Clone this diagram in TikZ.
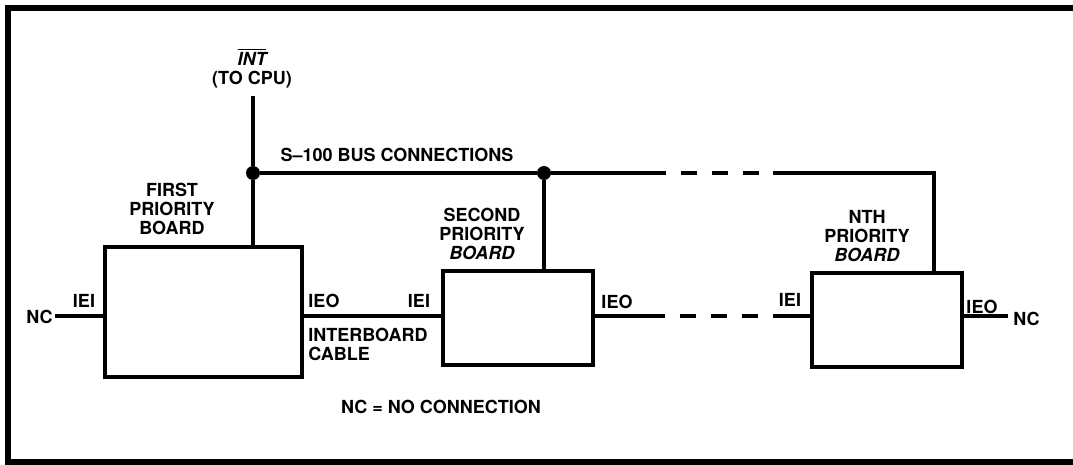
\documentclass[tikz,border=0pt]{standalone}
\usepackage{fontspec}
\setmainfont{TeX Gyre Heros}
\usetikzlibrary{positioning,calc}

\begin{document}
\begin{tikzpicture}[
  x=0.5pt,y=-0.5pt,
  every node/.style={font=\bfseries\fontsize{9}{9.5}\selectfont,inner sep=0pt},
  board/.style={draw,line width=1.6pt,inner sep=0pt},
  wire/.style={line width=1.6pt},
  gap/.style={dash pattern=on 8.25pt off 7.25pt,dash phase=8.25pt},
  dot/.style={circle,fill,inner sep=0pt,minimum size=7pt},
  frame/.style={line width=2.6pt}
]
\useasboundingbox (0,0) rectangle (1073,465);
\draw[frame] (1073,8) -- (8,8) -- (8,462) -- (1073,462);
% boards
\node[board,minimum width=98.5pt,minimum height=65pt] (box1) at (203.5,312) {};
\node[board,minimum width=75pt,minimum height=47pt] (box2) at (518,318) {};
\node[board,minimum width=75pt,minimum height=47pt] (box3) at (887,320) {};
\node[align=center] (first) at (172,209) {FIRST\\PRIORITY\\BOARD};
\node[align=center] (second) at (482,234) {SECOND\\PRIORITY\\\textit{BOARD}};
\node[align=center] (nth) at (867,236) {NTH\\PRIORITY\\\textit{BOARD}};
% bus
\node[align=center] (cpu) at (252,68) {$\overline{\hbox{\bfseries\itshape INT}}$\\(TO CPU)};
\node[dot] (j1) at (253,173) {};
\node[dot] (j2) at (544,173) {};
\node (bus) at (397,155) {S--100 BUS CONNECTIONS};
\coordinate (busA) at (666,173);
\coordinate (busB) at (773,173);
\coordinate (busend) at (934,173);
\draw[wire] ($(j1|-cpu.south)+(0,8)$) -- (j1);
\draw[wire] (j1) -- (j1 |- box1.north);
\draw[wire] (j1) -- (j2) -- (busA);
\draw[wire,gap] (busA) -- (busB);
\draw[wire] (busB) -- (busend) -- (busend |- box3.north);
\draw[wire] (j2) -- (j2 |- box2.north);
% daisy chain
\coordinate (sig) at (0,316);
\coordinate (sigA) at (665,316);
\coordinate (sigB) at (773,316);
\node[anchor=east] (ncL) at (53,317) {NC};
\node[anchor=west] (ncR) at (1013,319) {NC};
\node (ieiA) at (84,301) {IEI};
\node (ieoA) at (324,301) {IEO};
\node (ieiB) at (419,301) {IEI};
\node (ieoB) at (617,302) {IEO};
\node (ieiC) at (790,300) {IEI};
\node (ieoC) at (982,307) {IEO};
\node[align=left,anchor=north west] (cable) at (308,328) {INTERBOARD\\CABLE};
\draw[wire] ([xshift=1pt]ncL.east |- sig) -- (box1.west |- sig);
\draw[wire] (box1.east |- sig) -- (box2.west |- sig);
\draw[wire] (box2.east |- sig) -- (sigA);
\draw[wire,gap] (sigA) -- (sigB);
\draw[wire] (sigB) -- (box3.west |- sig);
\draw[wire] (box3.east |- sig) -- ([xshift=-2.5pt]ncR.west |- sig);
\node (note) at (441,407) {NC = NO CONNECTION};
\end{tikzpicture}
\end{document}
